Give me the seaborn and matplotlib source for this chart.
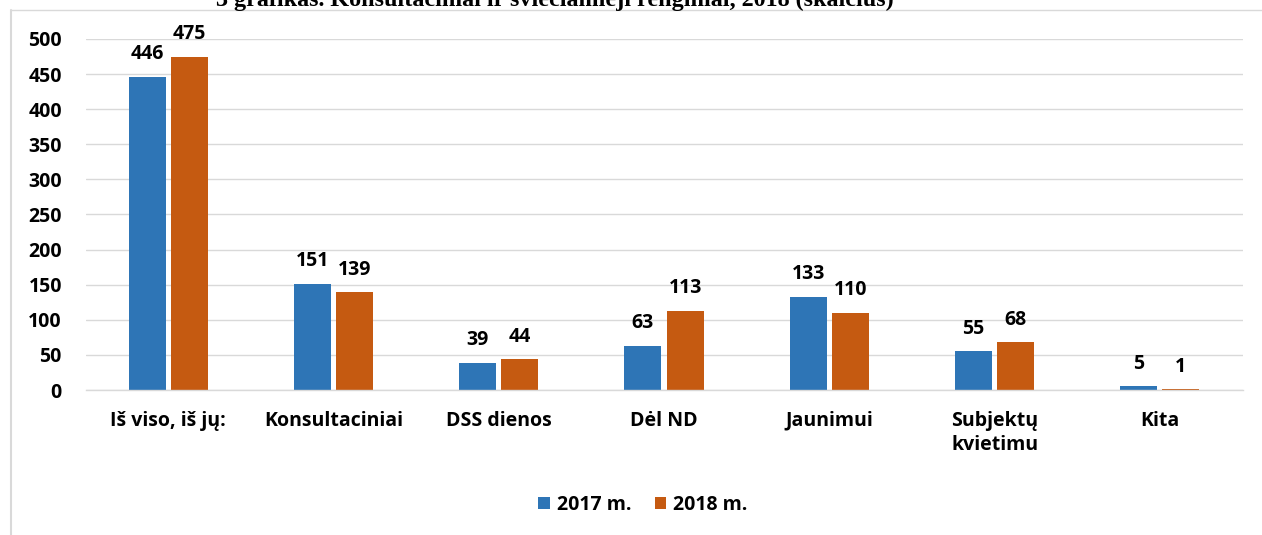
import matplotlib
matplotlib.use("Agg")
import matplotlib.pyplot as plt
import seaborn as sns
import pandas as pd
from matplotlib.lines import Line2D
from matplotlib.patches import Patch

categories = ["Iš viso, iš jų:", "Konsultaciniai", "DSS dienos", "Dėl ND",
              "Jaunimui", "Subjektų\nkvietimu", "Kita"]
series_names = ["2017 m.", "2018 m."]
values_2017 = [446, 151, 39, 63, 133, 55, 5]
values_2018 = [475, 139, 44, 113, 110, 68, 1]
yticks = [0, 50, 100, 150, 200, 250, 300, 350, 400, 450, 500]
title = "3 grafikas. Konsultaciniai ir šviečiamieji renginiai, 2018 (skaičius)"

colors = ["#2E75B6", "#C55A11"]

df = pd.DataFrame({
    "cat": categories * 2,
    "series": [series_names[0]] * len(categories) + [series_names[1]] * len(categories),
    "value": values_2017 + values_2018,
})

sns.set_theme(style="white")
plt.rcParams["font.family"] = ["Open Sans", "DejaVu Sans"]
plt.rcParams["text.color"] = "black"
plt.rcParams["xtick.labelcolor"] = "black"
plt.rcParams["ytick.labelcolor"] = "black"
FS = 14

fig = plt.figure(figsize=(12.62, 5.35), dpi=100)
ax = fig.add_axes([85.5 / 1262, 1 - 390 / 535, (1242.5 - 85.5) / 1262, (390 - 39) / 535])

sns.barplot(data=df, x="cat", y="value", hue="series", order=categories,
            hue_order=series_names, palette=colors, width=0.51, gap=0.12,
            ax=ax, legend=False, saturation=1, edgecolor="none")

ax.set_ylim(0, 500)
ax.set_xlim(-0.5, len(categories) - 0.5)
ax.set_yticks(yticks)
ax.set_yticklabels([str(t) for t in yticks], fontsize=FS, fontweight="bold", color="black")
ax.tick_params(axis="y", length=0, pad=17)
ax.tick_params(axis="x", length=0, pad=15)
for lbl in ax.get_xticklabels():
    lbl.set_fontsize(FS)
    lbl.set_fontweight("bold")
    lbl.set_color("black")
    lbl.set_va("top")
    lbl.set_linespacing(1.25)
ax.set_xlabel("")
ax.set_ylabel("")
ax.yaxis.grid(True, color="#D9D9D9", linewidth=1)
ax.set_axisbelow(True)
for s in ["top", "right", "left"]:
    ax.spines[s].set_visible(False)
ax.spines["bottom"].set_color("#D9D9D9")
ax.spines["bottom"].set_linewidth(1)

for container in ax.containers:
    ax.bar_label(container, fmt="%d", padding=9, fontsize=FS, fontweight="bold", color="black")

handles = [Patch(facecolor=c, edgecolor="none") for c in colors]
leg = fig.legend(handles, series_names, loc="center", bbox_to_anchor=(643 / 1262, 1 - 505 / 535),
                 ncol=2, frameon=False, prop={"size": FS, "weight": "bold"},
                 handlelength=0.6, handleheight=0.6, handletextpad=0.35, columnspacing=1.2)
for t in leg.get_texts():
    t.set_color("black")

# outer chart border (top and left visible)
fig.add_artist(Line2D([10.5 / 1262, 1.0], [1 - 10 / 535, 1 - 10 / 535],
                      transform=fig.transFigure, color="#D9D9D9", linewidth=1))
fig.add_artist(Line2D([10.5 / 1262, 10.5 / 1262], [0, 1 - 10 / 535],
                      transform=fig.transFigure, color="#D9D9D9", linewidth=1.5))

fig.text(555 / 1262, 1 - 6 / 535, title, ha="center", va="baseline", color="black",
         fontsize=17.4, fontweight="bold", family=["Liberation Serif", "DejaVu Serif"])

fig.savefig("out.png", dpi=100)
